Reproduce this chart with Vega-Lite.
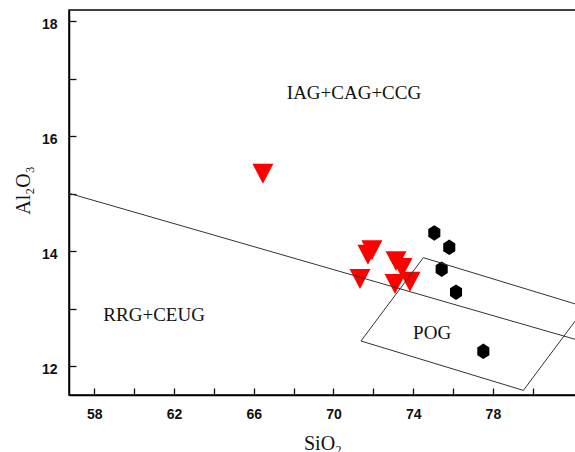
{
  "$schema": "https://vega.github.io/schema/vega-lite/v6.json",
  "width": 507,
  "height": 385,
  "autosize": {"type": "none"},
  "padding": {"left": 69, "top": 10, "right": 0, "bottom": 57},
  "background": "white",
  "config": {
    "view": {"stroke": "black", "strokeWidth": 1.5},
    "axis": {
      "grid": false,
      "domainColor": "black",
      "domainWidth": 1.5,
      "labelFont": "Liberation Sans Narrow, Liberation Sans",
      "labelFontWeight": "bold",
      "labelFontSize": 14,
      "labelColor": "#111",
      "titleFont": "Liberation Serif",
      "titleFontWeight": "normal",
      "titleFontSize": 20,
      "titleColor": "#111"
    }
  },
  "resolve": {"axis": {"x": "independent", "y": "independent"}},
  "datasets": {
    "samples": [
      {"SiO2": 66.46, "Al2O3": 15.35, "group": "A"},
      {"SiO2": 71.93, "Al2O3": 14.02, "group": "A"},
      {"SiO2": 71.73, "Al2O3": 13.94, "group": "A"},
      {"SiO2": 71.33, "Al2O3": 13.52, "group": "A"},
      {"SiO2": 73.14, "Al2O3": 13.83, "group": "A"},
      {"SiO2": 73.44, "Al2O3": 13.71, "group": "A"},
      {"SiO2": 73.09, "Al2O3": 13.43, "group": "A"},
      {"SiO2": 73.84, "Al2O3": 13.47, "group": "A"},
      {"SiO2": 75.06, "Al2O3": 14.32, "group": "B"},
      {"SiO2": 75.81, "Al2O3": 14.07, "group": "B"},
      {"SiO2": 75.43, "Al2O3": 13.69, "group": "B"},
      {"SiO2": 76.15, "Al2O3": 13.29, "group": "B"},
      {"SiO2": 77.52, "Al2O3": 12.26, "group": "B"}
    ],
    "boundary": [
      {"SiO2": 56.73, "Al2O3": 15.01, "o": 1},
      {"SiO2": 82.12, "Al2O3": 12.47, "o": 2}
    ],
    "pog": [
      {"SiO2": 74.51, "Al2O3": 13.89, "o": 1},
      {"SiO2": 82.65, "Al2O3": 13.03, "o": 2},
      {"SiO2": 79.53, "Al2O3": 11.58, "o": 3},
      {"SiO2": 71.38, "Al2O3": 12.44, "o": 4},
      {"SiO2": 74.51, "Al2O3": 13.89, "o": 5}
    ],
    "labels": [
      {"SiO2": 71.03, "Al2O3": 16.65, "text": "IAG+CAG+CCG"},
      {"SiO2": 61.0, "Al2O3": 12.79, "text": "RRG+CEUG"},
      {"SiO2": 74.95, "Al2O3": 12.47, "text": "POG"}
    ]
  },
  "layer": [
    {
      "data": {"name": "samples"},
      "transform": [{"filter": "datum.group == 'A'"}],
      "mark": {"type": "point", "filled": true, "shape": "M-1,-0.95L1,-0.95L0,0.95Z", "size": 441, "color": "#ff0000", "opacity": 1, "strokeWidth": 0},
      "encoding": {
        "x": {
          "field": "SiO2", "type": "quantitative",
          "scale": {"domain": [56.73, 82.17], "nice": false, "zero": false},
          "axis": {
            "orient": "bottom",
            "title": "SiO₂",
            "values": [58, 62, 66, 70, 74, 78],
            "format": "d",
            "ticks": false,
            "labelPadding": 12,
            "labelFlush": false,
            "titleBaseline": "alphabetic",
            "titleY": 54
          }
        },
        "y": {
          "field": "Al2O3", "type": "quantitative",
          "scale": {"domain": [11.5, 18.2], "nice": false, "zero": false},
          "axis": {
            "orient": "left",
            "title": "Al₂O₃",
            "values": [12, 14, 16, 18],
            "format": "d",
            "ticks": false,
            "labelPadding": 12,
            "labelOffset": 3,
            "labelFlush": false,
            "titleBaseline": "alphabetic",
            "titleAngle": -90,
            "titleX": -40,
            "titleY": 180,
            "titleAlign": "center"
          }
        }
      }
    },
    {
      "data": {"name": "samples"},
      "transform": [{"filter": "datum.group == 'B'"}],
      "mark": {"type": "point", "filled": true, "shape": "M0,-1L0.78,-0.5L0.78,0.5L0,1L-0.78,0.5L-0.78,-0.5Z", "size": 240, "color": "black", "opacity": 1, "strokeWidth": 0},
      "encoding": {
        "x": {
          "field": "SiO2", "type": "quantitative",
          "axis": {
            "orient": "bottom", "title": null, "labels": false, "domain": false, "ticks": true,
            "tickColor": "#111111", "tickWidth": 1.3, "tickSize": 7, "offset": -7,
            "values": [58, 60, 62, 64, 66, 68, 70, 72, 74, 76, 78, 80]
          }
        },
        "y": {
          "field": "Al2O3", "type": "quantitative",
          "axis": {
            "orient": "left", "title": null, "labels": false, "domain": false, "ticks": true,
            "tickColor": "#111111", "tickWidth": 1.3, "tickSize": 7, "offset": -7,
            "values": [12, 13, 14, 15, 16, 17, 18]
          }
        }
      }
    },
    {
      "data": {"name": "boundary"},
      "mark": {"type": "line", "color": "#333", "strokeWidth": 1, "clip": true},
      "encoding": {
        "x": {"field": "SiO2", "type": "quantitative", "axis": null},
        "y": {"field": "Al2O3", "type": "quantitative", "axis": null},
        "order": {"field": "o"}
      }
    },
    {
      "data": {"name": "pog"},
      "mark": {"type": "line", "color": "#333", "strokeWidth": 1, "clip": true},
      "encoding": {
        "x": {"field": "SiO2", "type": "quantitative", "axis": null},
        "y": {"field": "Al2O3", "type": "quantitative", "axis": null},
        "order": {"field": "o"}
      }
    },
    {
      "data": {"name": "labels"},
      "mark": {"type": "text", "font": "Liberation Serif", "fontSize": 19, "color": "#111", "align": "center", "baseline": "alphabetic"},
      "encoding": {
        "x": {"field": "SiO2", "type": "quantitative", "axis": null},
        "y": {"field": "Al2O3", "type": "quantitative", "axis": null},
        "text": {"field": "text"}
      }
    }
  ]
}
